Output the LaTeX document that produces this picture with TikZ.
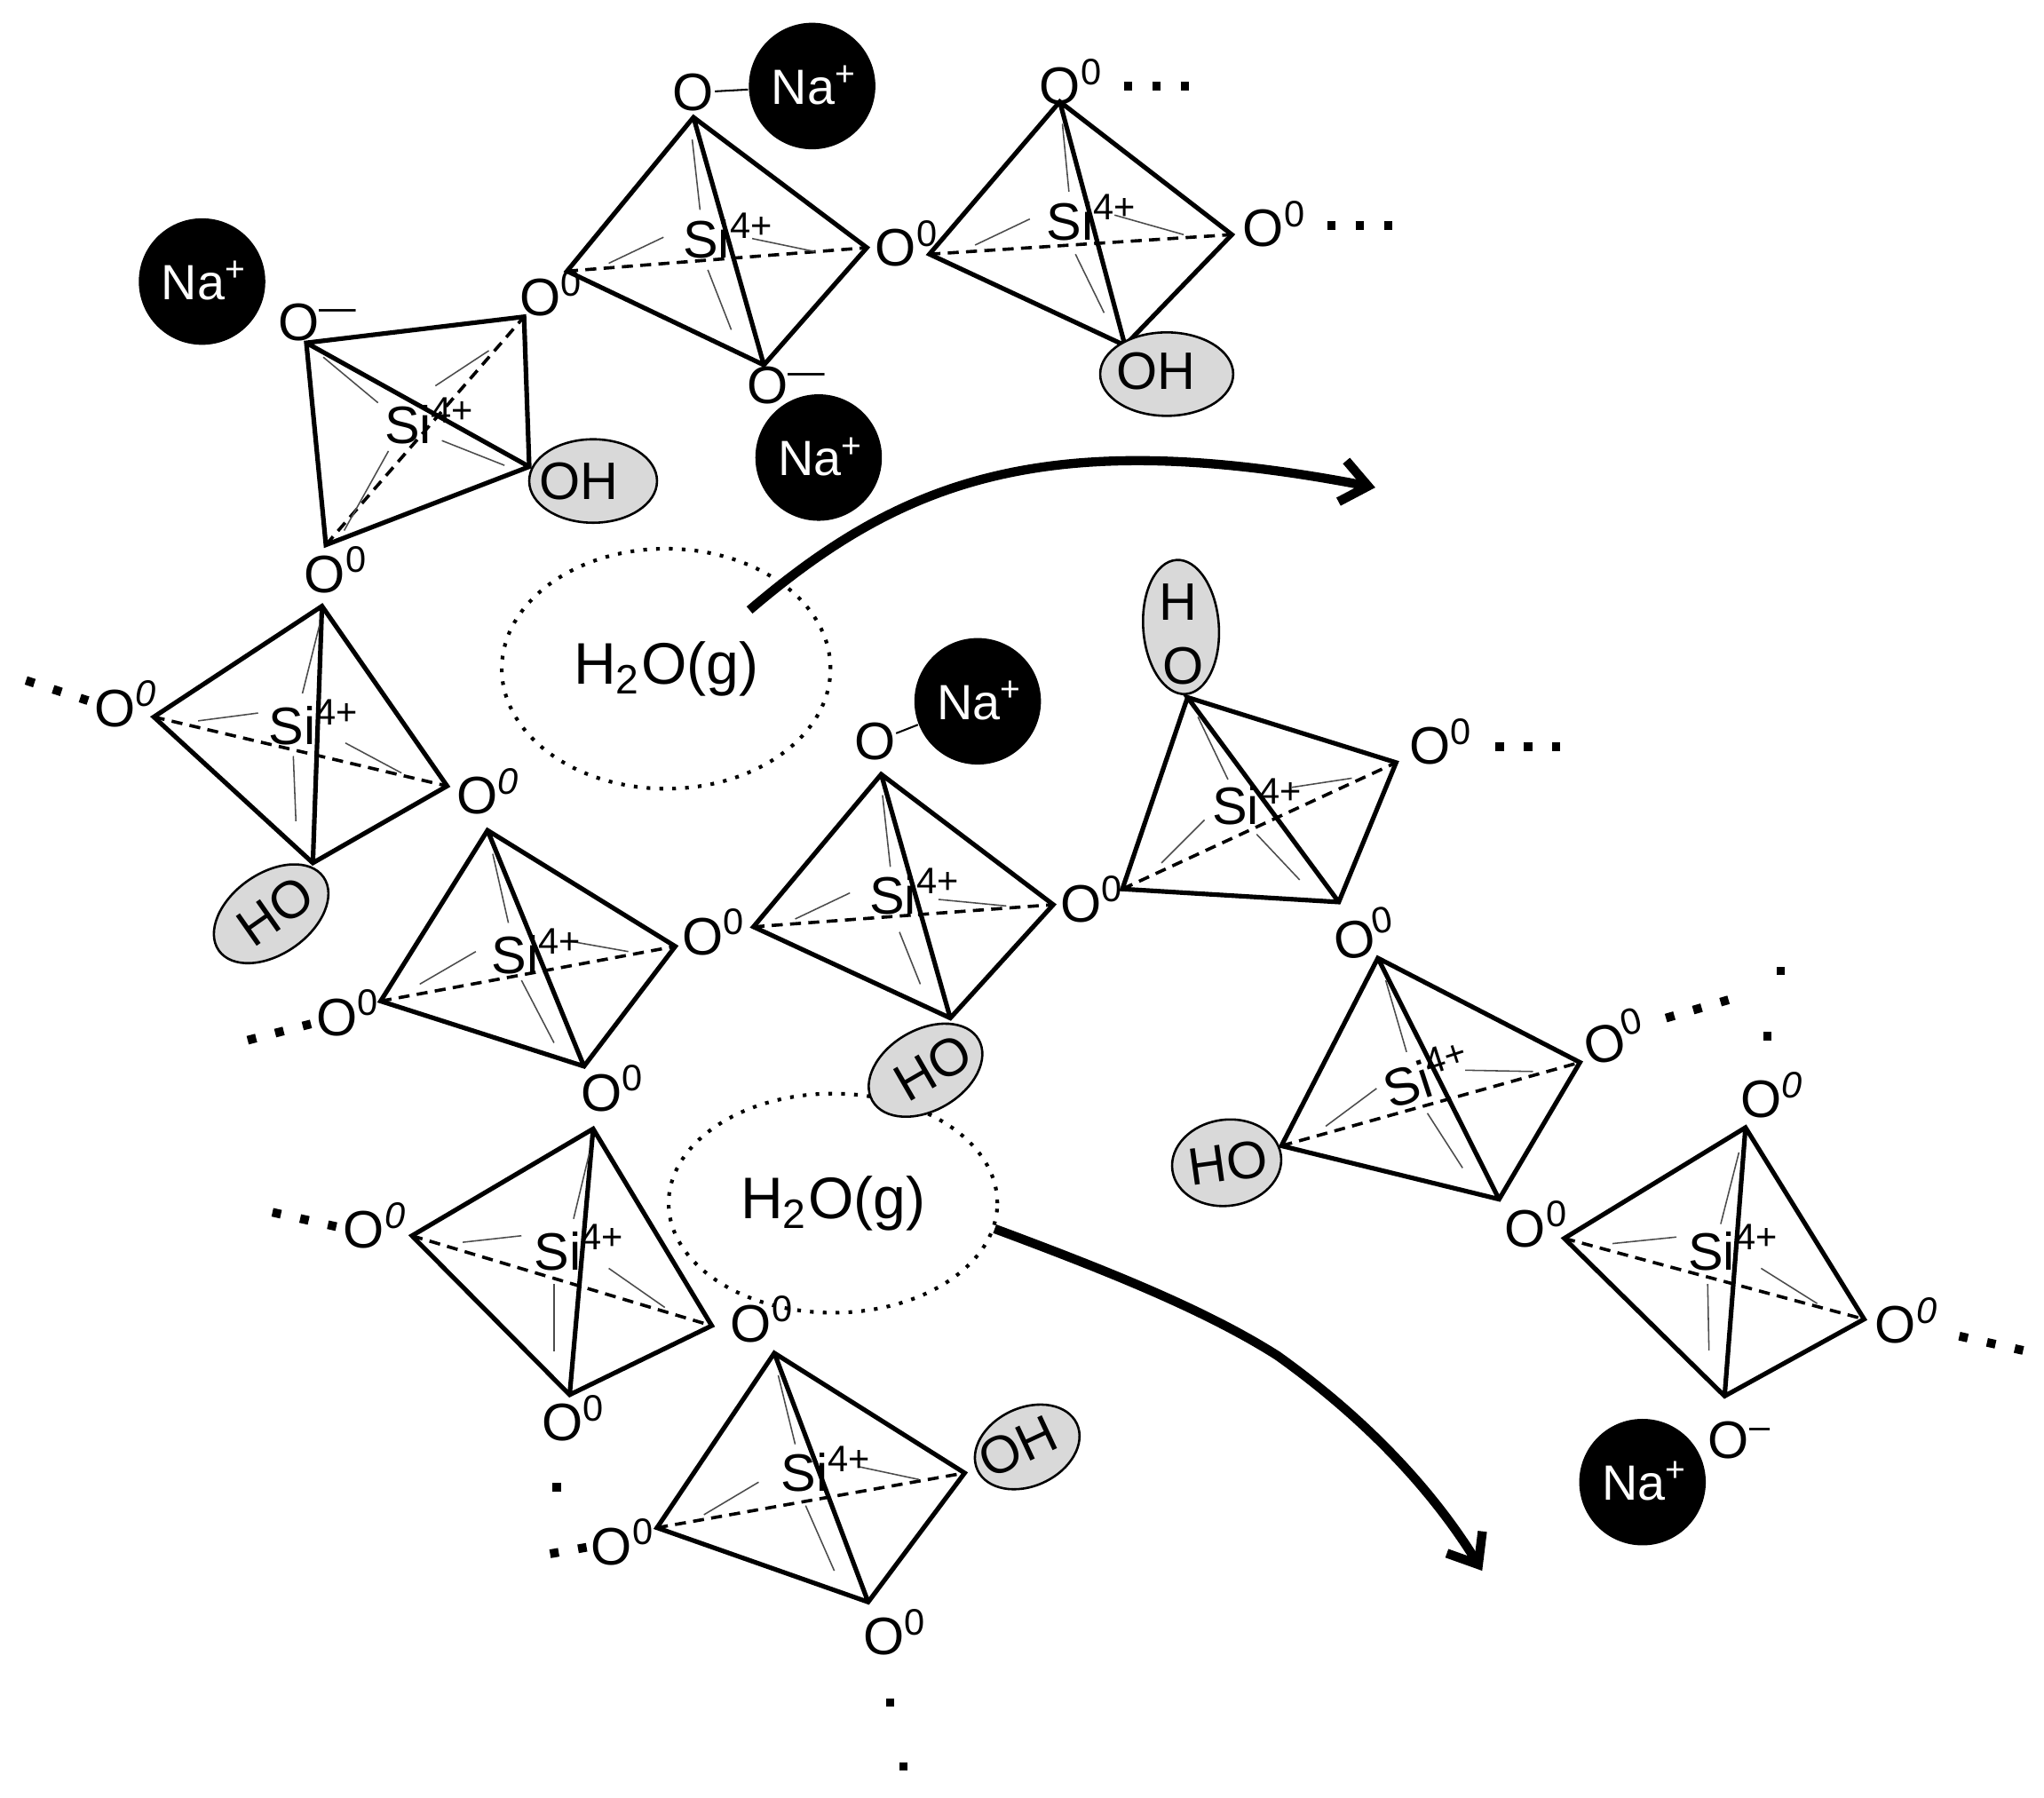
\documentclass[tikz,border=0pt]{standalone}
\usepackage{fontspec}
\setmainfont{Liberation Sans}
\usetikzlibrary{arrows.meta, shapes.geometric}

\begin{document}
\begin{tikzpicture}[
    x=0.01cm, y=-0.01cm,
    every node/.style={inner sep=0pt},
    atom/.style={font=\fontsize{11.5}{13}\selectfont},
    silicon/.style={font=\fontsize{11.5}{13}\selectfont},
    sodium/.style={circle, fill=black, text=white, minimum size=0.97cm, font=\fontsize{10.8}{13}\selectfont},
    hydroxyl/.style={ellipse, draw=black, fill=black!15, line width=0.5pt},
    vapour/.style={ellipse, draw=black, dotted, line width=0.8pt, font=\fontsize{12.8}{15}\selectfont},
    edge/.style={line width=1pt, line join=miter},
    hidden/.style={line width=0.7pt, dash pattern=on 2.4pt off 1.6pt},
    guide/.style={line width=0.3pt, black!70},
    bond/.style={line width=0.4pt},
    trail/.style={line width=1.9pt, dash pattern=on 1.9pt off 4.3pt},
    speck/.style={rectangle, fill=black, minimum size=1.8pt},
    flow/.style={-{Straight Barb[length=2mm,width=3.2mm]}, line width=2pt}
]
\useasboundingbox (0,0) rectangle (1568,1379);

% =================== WATER VAPOUR ===================
\node[vapour, minimum width=2.52cm, minimum height=1.84cm] (vap1) at (511,513) {\raisebox{-1.4pt}{H\textsubscript{2}O(g)}};
\node[vapour, minimum width=2.52cm, minimum height=1.68cm] (vap2) at (639,923) {\raisebox{-1.2pt}{H\textsubscript{2}O(g)}};

\coordinate (flow1) at (575,468);
\coordinate (end1) at (1055,374);
\coordinate (end2) at (1137,1205);
\coordinate (bend2) at (980,1040);
\draw[flow] (flow1) .. controls (690,370) and (800,325) .. (end1);
\draw[flow] (vap2.-9) .. controls (850,975) and (925,1005) .. (bend2) .. controls (1050,1090) and (1100,1145) .. (end2);

% =================== TETRAHEDRON 1 (top middle) ===================
\coordinate (a1) at (532,90);
\coordinate (b1) at (435,208);
\coordinate (c1) at (586,280);
\coordinate (d1) at (665,190);
\draw[edge] (a1) -- (b1) -- (c1) -- (d1) -- cycle (a1) -- (c1);
\draw[hidden] (b1) -- (d1);
\draw[guide] (531,107) -- (537,161);
\draw[guide] (467,202) -- (509,182);
\draw[guide] (543,207) -- (561,253);
\draw[guide] (577,183) -- (625,193);
\node[silicon] (si1) at (559,181) {Si\textsuperscript{4+}};

% =================== TETRAHEDRON 2 (top right) ===================
\coordinate (a2) at (813,78);
\coordinate (b2) at (713,195);
\coordinate (c2) at (863,265);
\coordinate (d2) at (945,180);
\draw[edge] (a2) -- (b2) -- (c2) -- (d2) -- cycle (a2) -- (c2);
\draw[hidden] (b2) -- (d2);
\draw[guide] (815,95) -- (820,147);
\draw[guide] (748,188) -- (790,168);
\draw[guide] (825,195) -- (847,240);
\draw[guide] (855,165) -- (908,180);
\node[silicon] (si2) at (838,167) {Si\textsuperscript{4+}};

% =================== TETRAHEDRON 3 (top left) ===================
\coordinate (a3) at (235,263);
\coordinate (b3) at (250,418);
\coordinate (c3) at (406,358);
\coordinate (d3) at (402,243);
\draw[edge] (a3) -- (b3) -- (c3) -- (d3) -- cycle (a3) -- (c3);
\draw[hidden] (b3) -- (d3);
\draw[guide] (248,274) -- (290,309);
\draw[guide] (334,296) -- (375,269);
\draw[guide] (339,338) -- (387,357);
\draw[guide] (298,346) -- (264,407);
\node[silicon] (si3) at (330,323) {Si\textsuperscript{4+}};

% =================== TETRAHEDRON 4 (left) ===================
\coordinate (a4) at (247,465);
\coordinate (b4) at (118,550);
\coordinate (c4) at (240,662);
\coordinate (d4) at (343,603);
\draw[edge] (a4) -- (b4) -- (c4) -- (d4) -- cycle (a4) -- (c4);
\draw[hidden] (b4) -- (d4);
\draw[guide] (245,480) -- (232,532);
\draw[guide] (152,553) -- (198,547);
\draw[guide] (225,580) -- (227,630);
\draw[guide] (265,570) -- (308,593);
\node[silicon] (si4) at (241,554) {Si\textsuperscript{4+}};

% =================== TETRAHEDRON 5 (centre left) ===================
\coordinate (a5) at (374,637);
\coordinate (b5) at (292,768);
\coordinate (c5) at (448,818);
\coordinate (d5) at (518,726);
\draw[edge] (a5) -- (b5) -- (c5) -- (d5) -- cycle (a5) -- (c5);
\draw[hidden] (b5) -- (d5);
\draw[guide] (378,655) -- (390,708);
\draw[guide] (322,755) -- (365,730);
\draw[guide] (400,752) -- (425,800);
\draw[guide] (437,722) -- (482,730);
\node[silicon] (si5) at (412,730) {Si\textsuperscript{4+}};

% =================== TETRAHEDRON 6 (centre) ===================
\coordinate (a6) at (676,594);
\coordinate (b6) at (578,711);
\coordinate (c6) at (729,781);
\coordinate (d6) at (808,694);
\draw[edge] (a6) -- (b6) -- (c6) -- (d6) -- cycle (a6) -- (c6);
\draw[hidden] (b6) -- (d6);
\draw[guide] (677,610) -- (683,665);
\draw[guide] (610,705) -- (652,685);
\draw[guide] (690,715) -- (706,755);
\draw[guide] (720,690) -- (772,695);
\node[silicon] (si6) at (702,684) {Si\textsuperscript{4+}};

% =================== TETRAHEDRON 7 (centre right) ===================
\coordinate (a7) at (911,535);
\coordinate (b7) at (861,682);
\coordinate (c7) at (1027,692);
\coordinate (d7) at (1071,585);
\draw[edge] (a7) -- (b7) -- (c7) -- (d7) -- (a7) -- (c7);
\draw[hidden] (b7) -- (d7);
\draw[guide] (919,550) -- (942,598);
\draw[guide] (891,662) -- (924,629);
\draw[guide] (964,640) -- (997,675);
\draw[guide] (991,604) -- (1037,597);
\node[silicon] (si7) at (965,615) {Si\textsuperscript{4+}};

% =================== TETRAHEDRON 8 (right) ===================
\coordinate (a8) at (1057,735);
\coordinate (b8) at (983,879);
\coordinate (c8) at (1150,920);
\coordinate (d8) at (1212,815);
\draw[edge] (a8) -- (b8) -- (c8) -- (d8) -- cycle (a8) -- (c8);
\draw[hidden] (b8) -- (d8);
\draw[guide] (1063,752) -- (1079,807);
\draw[guide] (1017,864) -- (1056,835);
\draw[guide] (1095,854) -- (1122,896);
\draw[guide] (1124,821) -- (1176,822);
\node[silicon, rotate=18] (si8) at (1095,824) {Si\textsuperscript{4+}};

% =================== TETRAHEDRON 9 (far right) ===================
\coordinate (a9) at (1339,865);
\coordinate (b9) at (1200,950);
\coordinate (c9) at (1323,1071);
\coordinate (d9) at (1430,1012);
\draw[edge] (a9) -- (b9) -- (c9) -- (d9) -- cycle (a9) -- (c9);
\draw[hidden] (b9) -- (d9);
\draw[guide] (1334,884) -- (1320,939);
\draw[guide] (1237,954) -- (1286,949);
\draw[guide] (1310,985) -- (1311,1036);
\draw[guide] (1351,973) -- (1394,1000);
\node[silicon] (si9) at (1330,957) {Si\textsuperscript{4+}};

% =================== TETRAHEDRON 10 (lower left) ===================
\coordinate (a10) at (455,866);
\coordinate (b10) at (316,948);
\coordinate (c10) at (437,1070);
\coordinate (d10) at (546,1017);
\draw[edge] (a10) -- (b10) -- (c10) -- (d10) -- cycle (a10) -- (c10);
\draw[hidden] (b10) -- (d10);
\draw[guide] (452,885) -- (440,935);
\draw[guide] (355,953) -- (400,948);
\draw[guide] (425,985) -- (425,1037);
\draw[guide] (467,973) -- (510,1003);
\node[silicon] (si10) at (445,957) {Si\textsuperscript{4+}};

% =================== TETRAHEDRON 11 (bottom) ===================
\coordinate (a11) at (594,1038);
\coordinate (b11) at (504,1172);
\coordinate (c11) at (666,1229);
\coordinate (d11) at (740,1130);
\draw[edge] (a11) -- (b11) -- (c11) -- (d11) -- cycle (a11) -- (c11);
\draw[hidden] (b11) -- (d11);
\draw[guide] (597,1055) -- (610,1108);
\draw[guide] (540,1162) -- (582,1137);
\draw[guide] (618,1155) -- (640,1205);
\draw[guide] (658,1125) -- (705,1135);
\node[silicon] (si11) at (634,1127) {Si\textsuperscript{4+}};

% =================== OXYGEN LABELS ===================
\node[atom] (o1) at (532,71) {O};
\node[atom] (o2) at (822,63) {O\textsuperscript{0}};
\node[atom] (o3) at (696,187) {O\textsuperscript{0}};
\node[atom] (o4) at (978,172) {O\textsuperscript{0}};
\node[atom] (o5) at (423,225) {O\textsuperscript{0}};
\node[atom] (o6) at (244,247) {O\textsuperscript{---}};
\node[atom] (o7) at (604,296) {O\textsuperscript{---}};
\node[atom] (o8) at (258,437) {O\textsuperscript{0}};
\node[atom] (o9) at (97,540) {O\textsuperscript{\itshape 0}};
\node[atom] (o10) at (375,607) {O\textsuperscript{\itshape 0}};
\node[atom] (o11) at (548,715) {O\textsuperscript{0}};
\node[atom] (o12) at (267,777) {O\textsuperscript{0}};
\node[atom] (o13) at (470,835) {O\textsuperscript{0}};
\node[atom] (o14) at (671,569) {O};
\node[atom] (o15) at (1106,569) {O\textsuperscript{0}};
\node[atom] (o16) at (838,690) {O\textsuperscript{0}};
\node[atom, rotate=10] (o17) at (1047,716) {O\textsuperscript{0}};
\node[atom, rotate=15] (o18) at (1239,795) {O\textsuperscript{0}};
\node[atom] (o19) at (1360,840) {O\textsuperscript{\itshape 0}};
\node[atom] (o20) at (1179,939) {O\textsuperscript{0}};
\node[atom] (o21) at (1463,1013) {O\textsuperscript{\itshape 0}};
\node[atom] (o22) at (1335,1105) {O\textsuperscript{--}};
\node[atom] (o23) at (288,940) {O\textsuperscript{\itshape 0}};
\node[atom] (o24) at (585,1012) {O\textsuperscript{0}};
\node[atom] (o25) at (440,1088) {O\textsuperscript{0}};
\node[atom] (o26) at (478,1183) {O\textsuperscript{0}};
\node[atom] (o27) at (687,1252) {O\textsuperscript{0}};

% =================== SODIUM IONS ===================
\node[sodium] (na1) at (623,66) {\kern1pt\raisebox{0.5pt}{Na\textsuperscript{+}}};
\node[sodium] (na2) at (155,216) {\kern1pt\raisebox{0.5pt}{Na\textsuperscript{+}}};
\node[sodium] (na3) at (628,351) {\kern1pt\raisebox{0.5pt}{Na\textsuperscript{+}}};
\node[sodium] (na4) at (750,538) {\kern1pt\raisebox{0.5pt}{Na\textsuperscript{+}}};
\node[sodium] (na5) at (1260,1137) {\kern1pt\raisebox{0.5pt}{Na\textsuperscript{+}}};

\draw[bond] (o1) -- (na1);
\draw[bond] (o14) -- (na4);

% =================== HYDROXYL GROUPS ===================
\node[hydroxyl, minimum width=1.02cm, minimum height=0.64cm] (oh1) at (895,287) {};
\node[atom] (oh1t) at (887,285) {OH};
\node[hydroxyl, minimum width=0.98cm, minimum height=0.64cm] (oh2) at (455,369) {};
\node[atom] (oh2t) at (444,369) {OH};
\node[hydroxyl, minimum width=0.98cm, minimum height=0.62cm, rotate=35] (oh3) at (208,701) {};
\node[atom, rotate=35] (oh3t) at (211,699) {HO};
\node[hydroxyl, minimum width=0.58cm, minimum height=1.03cm, rotate=4] (oh4) at (906,481) {};
\node[atom] (oh4h) at (904,462) {H};
\node[atom] (oh4o) at (908,511) {O};
\node[hydroxyl, minimum width=0.84cm, minimum height=0.66cm, rotate=8] (oh5) at (941,892) {};
\node[atom, rotate=8] (oh5t) at (942,892) {HO};
\node[hydroxyl, minimum width=0.94cm, minimum height=0.62cm, rotate=30] (oh6) at (710,821) {};
\node[atom, rotate=30] (oh6t) at (716,819) {HO};
\node[hydroxyl, minimum width=0.84cm, minimum height=0.60cm, rotate=25] (oh7) at (788,1110) {};
\node[atom, rotate=25] (oh7t) at (781,1110) {OH};

% =================== CHAIN CONTINUATION DOTS ===================
\coordinate (t1a) at (862,66);   \coordinate (t1b) at (912,66);
\coordinate (t2a) at (1018,173); \coordinate (t2b) at (1068,173);
\coordinate (t3a) at (20,522);   \coordinate (t3b) at (67.5,537.5);
\coordinate (t4a) at (190,798);  \coordinate (t4b) at (238.5,785.5);
\coordinate (t5a) at (1147,573); \coordinate (t5b) at (1197,573);
\coordinate (t6a) at (1278,781); \coordinate (t6b) at (1326,767);
\coordinate (t7a) at (1503,1025);\coordinate (t7b) at (1552,1036);
\coordinate (t8a) at (209,930);  \coordinate (t8b) at (258,941);
\coordinate (t9a) at (422,1192); \coordinate (t9b) at (450,1187);
\draw[trail] (t1a) -- (t1b);
\draw[trail] (t2a) -- (t2b);
\draw[trail] (t3a) -- (t3b);
\draw[trail] (t4a) -- (t4b);
\draw[trail] (t5a) -- (t5b);
\draw[trail] (t6a) -- (t6b);
\draw[trail] (t7a) -- (t7b);
\draw[trail] (t8a) -- (t8b);
\draw[trail] (t9a) -- (t9b);

\node[speck] (s1) at (1366,745) {};
\node[speck] (s2) at (1356,795) {};
\node[speck] (s3) at (427,1141) {};
\node[speck] (s4) at (683,1306) {};
\node[speck] (s5) at (693,1355) {};

\end{tikzpicture}
\end{document}
